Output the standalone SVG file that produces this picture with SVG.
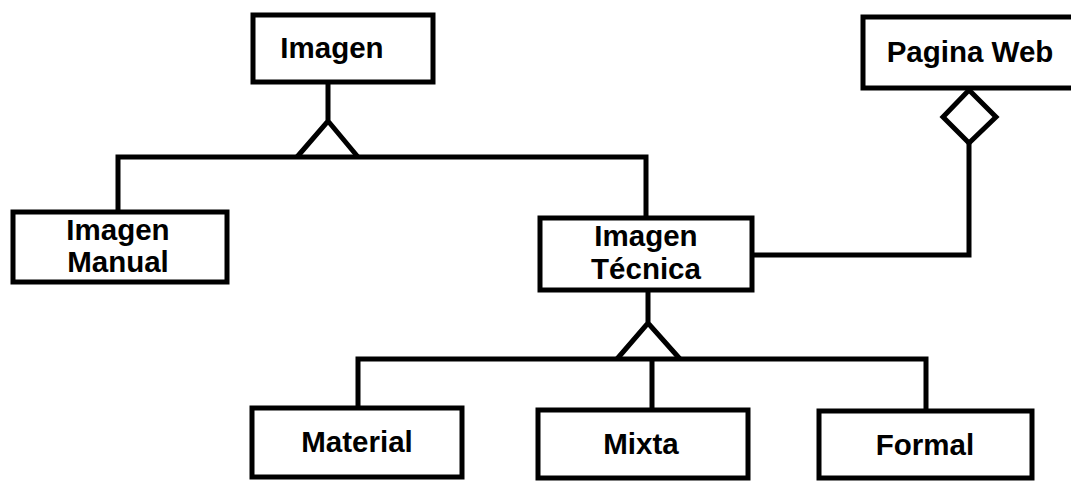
<svg xmlns="http://www.w3.org/2000/svg" width="1071" height="481" viewBox="0 0 1071 481">
<style>
.box{fill:#fff;stroke:#000;stroke-width:5}
.ln{fill:none;stroke:#000;stroke-width:5;stroke-linejoin:miter}
.t{font-family:"Liberation Sans",Arial,sans-serif;font-weight:bold;font-size:29.5px;text-anchor:middle;fill:#000}
</style>
<rect width="1071" height="481" fill="#fff"/>
<g id="connectors">
<path class="ln" d="M328,82 V121 M297,157 L328,121 L358,157"/>
<path class="ln" d="M118,212 V157 H646 V218"/>
<path class="ln" d="M648,290 V323 M617,359 L648,323 L680,359"/>
<path class="ln" d="M358,408 V359 H926 V410 M652,359 V410"/>
<path class="ln" d="M969,90 L996,117 L969,143 L943,117 Z"/>
<path class="ln" d="M969,143 V255 H752"/>
</g>
<g id="imagen"><rect class="box" x="253" y="15" width="180" height="67"/><text class="t" x="332" y="58">Imagen</text></g>
<g id="pagina-web"><rect class="box" x="863" y="17" width="220" height="71"/><text class="t" x="970" y="62">Pagina Web</text></g>
<g id="imagen-manual"><rect class="box" x="13" y="212" width="214" height="70"/><text class="t" x="118" y="240">Imagen</text><text class="t" x="118" y="272">Manual</text></g>
<g id="imagen-tecnica"><rect class="box" x="540" y="218" width="212" height="72"/><text class="t" x="646" y="246">Imagen</text><text class="t" x="646" y="279">Técnica</text></g>
<g id="material"><rect class="box" x="252" y="408" width="210" height="69"/><text class="t" x="357" y="452">Material</text></g>
<g id="mixta"><rect class="box" x="538" y="410" width="210" height="68"/><text class="t" x="641" y="454">Mixta</text></g>
<g id="formal"><rect class="box" x="819" y="411" width="213" height="67"/><text class="t" x="925" y="455">Formal</text></g>
</svg>
